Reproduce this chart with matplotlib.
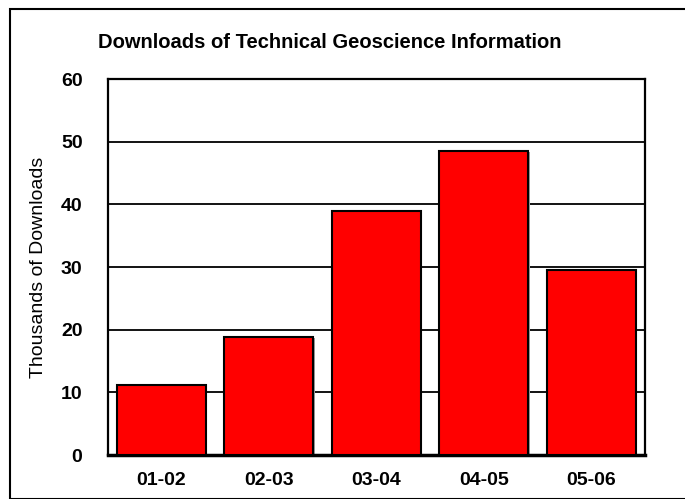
import matplotlib
matplotlib.use("Agg")
import matplotlib.pyplot as plt
from matplotlib.patches import Rectangle

categories = ["01-02", "02-03", "03-04", "04-05", "05-06"]
downloads = [11.2, 18.8, 38.9, 48.5, 29.5]
yticks = [0, 10, 20, 30, 40, 50, 60]

plt.rcParams['font.family'] = ['Liberation Sans', 'DejaVu Sans']

fig = plt.figure(figsize=(6.85, 4.99), dpi=100)
W, H = 685, 499
# outer border
fig.patches.append(Rectangle((9.5 / W, 0), (W + 5) / W, (H - 8.5) / H, transform=fig.transFigure,
                             fill=False, edgecolor='black', linewidth=1.5, clip_on=False))

ax = fig.add_axes([107.5 / W, (H - 455) / H, (645 - 107.5) / W, (455 - 79) / H])
x = list(range(len(categories)))
# shadows
ax.bar([i + 0.015 for i in x], [d - 0.15 for d in downloads], width=0.83, color='#999999',
       edgecolor='none', zorder=2)
ax.bar(x, downloads, width=0.83, color='#ff0000', edgecolor='black', linewidth=1.5, zorder=3)

ax.set_xlim(-0.5, 4.5)
ax.set_ylim(0, 60)
ax.set_yticks(yticks)
ax.set_xticks(x)
ax.set_xticklabels(categories, fontsize=14, fontweight='bold')
ax.set_yticklabels([str(v) for v in yticks], fontsize=14, fontweight='bold')
ax.tick_params(length=0)
ax.tick_params(axis='y', pad=18)
ax.tick_params(axis='x', pad=12)
ax.yaxis.grid(True, color='black', linewidth=1.3, zorder=1)
ax.set_axisbelow(True)
for s in ax.spines.values():
    s.set_linewidth(1.6)
ax.spines['bottom'].set_linewidth(2.5)
ax.set_ylabel("Thousands of Downloads", fontsize=14, labelpad=10)
fig.text(330 / W, 1 - 42 / H, "Downloads of Technical Geoscience Information",
         ha='center', va='center', fontsize=14.5, fontweight='bold')

fig.savefig("out.png", dpi=100)
